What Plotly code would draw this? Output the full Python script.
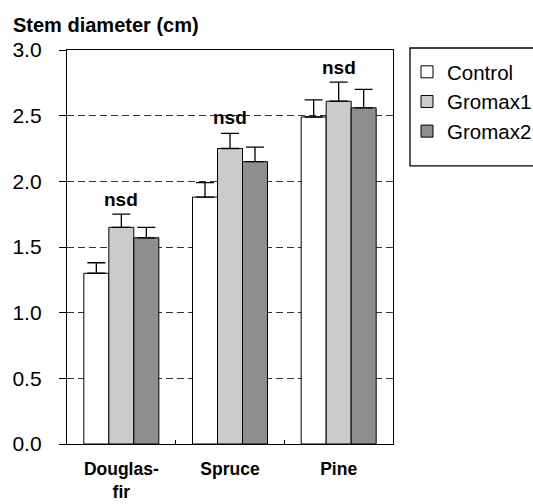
import plotly.graph_objects as go

categories = ["Douglas-fir", "Spruce", "Pine"]
tick_labels = ["Douglas-<br>fir", "Spruce", "Pine"]
series_names = ["Control", "Gromax1", "Gromax2"]
control = [1.30, 1.88, 2.49]
gromax1 = [1.65, 2.25, 2.61]
gromax2 = [1.57, 2.15, 2.56]
control_err = [0.08, 0.11, 0.13]
gromax1_err = [0.10, 0.115, 0.145]
gromax2_err = [0.08, 0.11, 0.14]
sig_labels = ["nsd", "nsd", "nsd"]
sig_y = [1.86, 2.485, 2.87]
y_ticks = [0.0, 0.5, 1.0, 1.5, 2.0, 2.5, 3.0]

colors = ["#ffffff", "#cbcbcb", "#8e8e8e"]
values = [control, gromax1, gromax2]
errors = [control_err, gromax1_err, gromax2_err]

FONT = "Liberation Sans, Arial, sans-serif"

fig = go.Figure()
for name, vals, errs, col in zip(series_names, values, errors, colors):
    fig.add_trace(go.Bar(
        name=name, x=categories, y=vals,
        marker=dict(color=col, line=dict(color="#000000", width=1)),
        error_y=dict(type="data", array=errs, arrayminus=[0] * len(errs),
                     symmetric=False, color="#000000", thickness=1.3, width=9),
        legendgroup=name,
    ))

for cat, lab, yv in zip(categories, sig_labels, sig_y):
    fig.add_annotation(x=cat, y=yv, xref="x", yref="y", text=lab, showarrow=False,
                       font=dict(family=FONT, size=19, color="#000000", weight="bold"))

fig.add_annotation(x=(11 - 67) / 326, y=(444.3 - 25) / 394.3, xref="paper", yref="paper",
                   xanchor="left", yanchor="middle", text="Stem diameter (cm)",
                   showarrow=False,
                   font=dict(family=FONT, size=20, color="#000000", weight="bold"))

# legend border
fig.add_shape(type="rect", xref="paper", yref="paper",
              x0=(410 - 67) / 326, x1=(560 - 67) / 326,
              y0=(444.3 - 166) / 394.3, y1=(444.3 - 48) / 394.3,
              line=dict(color="#000000", width=1.3), fillcolor="rgba(0,0,0,0)")

fig.update_layout(
    width=533, height=504,
    margin=dict(l=67, r=140, t=50, b=60, autoexpand=False),
    paper_bgcolor="#ffffff", plot_bgcolor="#ffffff",
    barmode="group", bargap=0.31, bargroupgap=0,
    font=dict(family=FONT, color="#000000"),
    showlegend=True,
    legend=dict(x=(407 - 67) / 326, xanchor="left", y=(444.3 - 52) / 394.3, yanchor="top",
                bgcolor="rgba(0,0,0,0)", borderwidth=0,
                font=dict(family=FONT, size=20.5, color="#000000"),
                tracegroupgap=3, traceorder="normal"),
)
fig.update_xaxes(
    type="category", tickmode="array", tickvals=categories, ticktext=tick_labels,
    tickson="boundaries", ticks="inside", ticklen=4, tickcolor="#000000", tickwidth=1,
    showline=True, linecolor="#000000", linewidth=1.3, mirror=True,
    showgrid=False, tickfont=dict(family=FONT, size=17.5, color="#000000", weight="bold"),
    ticklabelstandoff=9,
)
fig.update_yaxes(
    range=[0, 3], tickmode="array", tickvals=y_ticks,
    ticktext=[f"{v:.1f}" for v in y_ticks],
    ticks="outside", ticklen=7, tickcolor="#000000", tickwidth=1,
    showline=True, linecolor="#000000", linewidth=1.3, mirror=True,
    showgrid=True, gridcolor="#333333", gridwidth=1, griddash="7px,4px",
    zeroline=False, tickfont=dict(family=FONT, size=21, color="#000000"),
    ticklabelstandoff=13,
)

fig.write_html("out.html")
